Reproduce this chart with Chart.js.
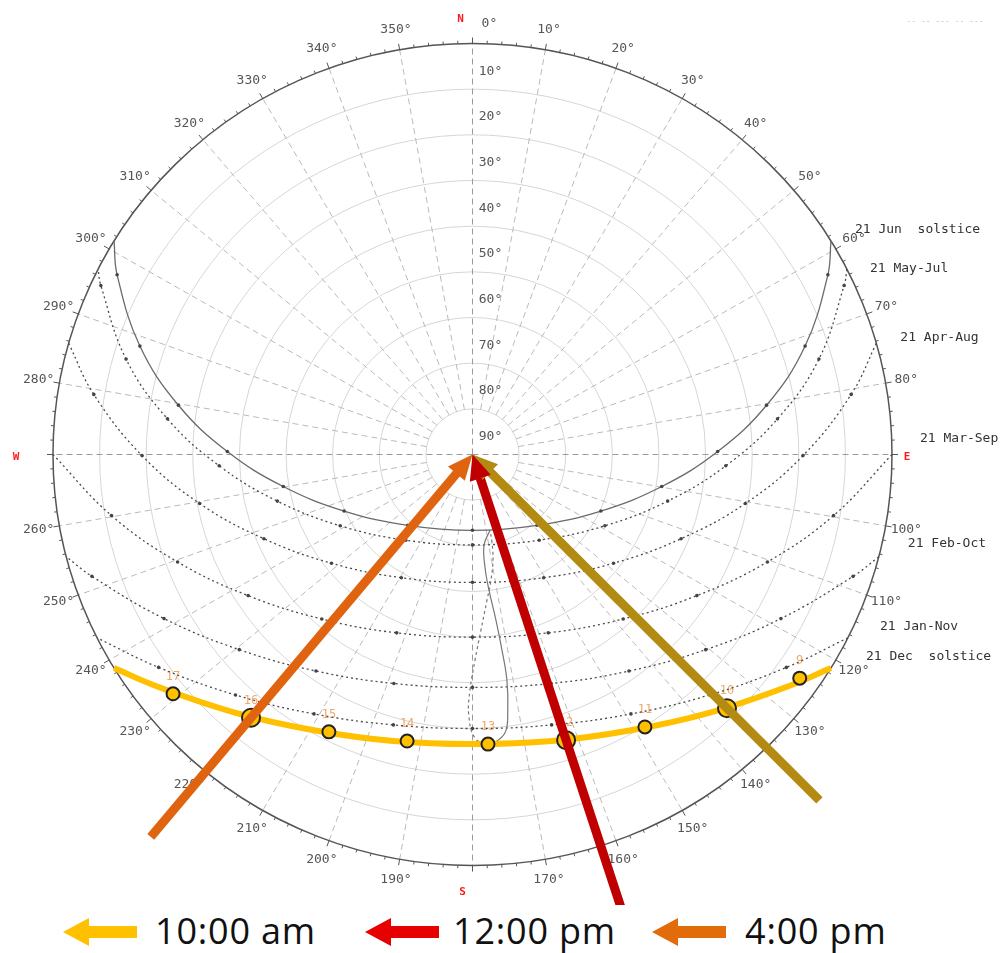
<!DOCTYPE html>
<html>
<head>
<meta charset="utf-8">
<script src="https://cdn.jsdelivr.net/npm/chart.js@4/dist/chart.umd.min.js"></script>
<style>
  html, body { margin: 0; padding: 0; background: #fff; }
  #wrap { position: absolute; left: 0; top: 0; width: 1002px; height: 905px; }
  #legend { position: absolute; left: 0; top: 905px; width: 1002px; height: 48px;
            font-family: "Open Sans", sans-serif; font-size: 36px; letter-spacing: 0.8px; color: #111; }
  #legend svg { position: absolute; top: 13px; }
  #legend span { position: absolute; top: 8px; line-height: 1; white-space: nowrap; }
</style>
</head>
<body>
<div id="wrap"><canvas id="sunChart"></canvas></div>
<div id="legend">
  <svg style="left:63px" width="74" height="28"><polygon points="0,14 26,0 26,8 74,8 74,20 26,20 26,28" fill="#ffc000"/></svg>
  <span style="left:155px">10:00 am</span>
  <svg style="left:365px" width="74" height="28"><polygon points="0,14 26,0 26,8 74,8 74,20 26,20 26,28" fill="#e60000"/></svg>
  <span style="left:453px">12:00 pm</span>
  <svg style="left:652px" width="74" height="28"><polygon points="0,14 26,0 26,8 74,8 74,20 26,20 26,28" fill="#e36c0a"/></svg>
  <span style="left:745px">4:00 pm</span>
</div>
<script>
// sun path, latitude ~40N : azimuth (deg from N, clockwise) / altitude (deg)
const junAz = [58.7, 62.7, 71.6, 80.3, 89.3, 99.8, 114.2, 138.2, 180, 221.8, 245.8, 260.2, 270.7, 279.7, 288.4, 297.3, 301.3];
const junAlt = [0, 4.2, 14.8, 26.0, 37.4, 48.8, 59.8, 69.2, 73.4, 69.2, 59.8, 48.8, 37.4, 26.0, 14.8, 4.2, 0];
const mayJulAz = [63.2, 65.1, 74.3, 83.2, 92.6, 103.7, 118.8, 142.7, 180, 217.3, 241.2, 256.3, 267.4, 276.8, 285.7, 294.9, 296.8];
const mayJulAlt = [0, 2.1, 12.8, 24.1, 35.6, 46.9, 57.6, 66.4, 70.2, 66.4, 57.6, 46.9, 35.6, 24.1, 12.8, 2.1, 0];
const aprAugAz = [74.3, 80.8, 90.2, 100.4, 112.4, 128.2, 150.5, 180, 209.5, 231.8, 247.6, 259.6, 269.8, 279.2, 285.7];
const aprAugAlt = [0, 7.7, 19.1, 30.5, 41.6, 51.5, 59.0, 62.0, 59.0, 51.5, 41.6, 30.5, 19.1, 7.7, 0];
const marSepAz = [90, 99.8, 110.4, 122.7, 138.1, 157.4, 180, 202.6, 221.9, 237.3, 249.6, 260.2, 270];
const marSepAlt = [0, 11.4, 22.5, 32.8, 41.6, 47.7, 50.0, 47.7, 41.6, 32.8, 22.5, 11.4, 0];
const febOctAz = [104.4, 108.1, 118.5, 130.5, 144.7, 161.4, 180, 198.6, 215.3, 229.5, 241.5, 251.9, 255.6];
const febOctAlt = [0, 4.1, 14.7, 24.2, 31.9, 37.1, 39.0, 37.1, 31.9, 24.2, 14.7, 4.1, 0];
const janNovAz = [116.5, 124.7, 136.0, 149.1, 164.0, 180, 196.0, 210.9, 224.0, 235.3, 243.5];
const janNovAlt = [0, 8.1, 16.8, 23.8, 28.4, 30.0, 28.4, 23.8, 16.8, 8.1, 0];
const decAz = [121.3, 127.0, 138.1, 150.6, 164.8, 180, 195.2, 209.4, 221.9, 233.0, 238.7];
const decAlt = [0, 5.5, 14.0, 20.7, 25.0, 26.6, 25.0, 20.7, 14.0, 5.5, 0];

const curveNames = ["21 Jun  solstice", "21 May-Jul", "21 Apr-Aug", "21 Mar-Sep", "21 Feb-Oct", "21 Jan-Nov", "21 Dec  solstice"];

// analemma at 13:00 clock time
const anaAz = [167.2, 172.9, 173.8, 173.2, 172.1, 171.6, 171.5, 172.3, 173.5, 176.6, 179.5, 180.8, 180.6, 179.3, 177.3, 174.4, 171.8, 169.2, 167.8, 167.2];
const anaAlt = [73.0, 70.0, 65.0, 60.1, 53.4, 46.7, 40.1, 33.5, 28.6, 26.1, 27.9, 32.9, 38.4, 45.0, 51.5, 58.0, 62.2, 66.5, 70.2, 73.0];

// hour points on 21 Dec
const hourLabels = ["9", "10", "11", "12", "13", "14", "15", "16", "17"];
const hourAz = [124.9, 135.5, 148.2, 162.2, 177.0, 192.6, 206.9, 219.5, 230.8];
const hourAlt = [4.4, 12.1, 19.8, 24.3, 26.5, 25.7, 21.9, 15.3, 7.1];

// arrows from the zenith through the marked hours
const arrowHours = ["10", "12", "16"];
const arrowTailAlt = [-16.2, -20, -18.5];
const arrowColors = ["#b38b12", "#c00000", "#e0640f"];

const altTicks = [10, 20, 30, 40, 50, 60, 70, 80, 90];
const azTicks = Array.from({ length: 36 }, (_, i) => i * 10);

function proj(az, alt) {
  const r = (90 - alt) / 90, a = az * Math.PI / 180;
  return { x: r * Math.sin(a), y: r * Math.cos(a) };
}
const pts = (az, alt) => az.map((v, i) => proj(v, alt[i]));

const curves = [
  [junAz, junAlt], [mayJulAz, mayJulAlt], [aprAugAz, aprAugAlt], [marSepAz, marSepAlt],
  [febOctAz, febOctAlt], [janNovAz, janNovAlt], [decAz, decAlt]
];

const datasets = [];

// arrow shafts (on top)
const arrowAz = arrowHours.map(h => hourAz[hourLabels.indexOf(h)]);
arrowHours.forEach((h, i) => {
  datasets.push({
    data: [proj(arrowAz[i], arrowTailAlt[i]), proj(arrowAz[i], 85)],
    showLine: true, borderColor: arrowColors[i], borderWidth: 9, pointRadius: 0,
    borderCapStyle: "butt", order: i === 1 ? 0 : 1
  });
});

// hour markers
datasets.push({
  data: pts(hourAz, hourAlt), showLine: false,
  pointRadius: hourLabels.map(h => arrowHours.includes(h) ? 9 : 6.5),
  pointBackgroundColor: "#ffc000", pointBorderColor: "#222", pointBorderWidth: 2, order: 2
});

// 21 Dec highlighted
datasets.push({
  data: pts(decAz, decAlt), showLine: true, borderColor: "#ffc000", borderWidth: 6,
  tension: 0.4, pointRadius: 0, order: 3
});

// analemma: one half solid, the other dashed
const ana = pts(anaAz, anaAlt);
datasets.push({ data: ana.slice(0, 10), showLine: true, borderColor: "#777", borderWidth: 1.2, tension: 0.4, pointRadius: 0, order: 4 });
datasets.push({ data: ana.slice(9), showLine: true, borderColor: "#777", borderWidth: 1.2, borderDash: [3, 3], tension: 0.4, pointRadius: 0, order: 4 });

// date curves
curves.slice(0, 6).forEach(([az, alt], i) => {
  const n = az.length;
  datasets.push({
    data: pts(az, alt), showLine: true, tension: 0.4,
    borderColor: i === 0 ? "#6a6a6a" : "#4a4a4a", borderWidth: 1.3,
    borderDash: i === 0 ? [] : [2, 3],
    pointRadius: c => (c.dataIndex === 0 || c.dataIndex === n - 1) ? 0 : 1.8,
    pointBackgroundColor: "#444", pointBorderWidth: 0, order: 5
  });
});

const labelFont = '13px "DejaVu Sans Mono", monospace';

const sunGrid = {
  id: "sunGrid",
  beforeDatasetsDraw(chart) {
    const { ctx, scales: { x, y } } = chart;
    const cx = x.getPixelForValue(0), cy = y.getPixelForValue(0);
    const rx = x.getPixelForValue(1) - cx, ry = cy - y.getPixelForValue(1);
    ctx.save();

    // altitude circles
    ctx.strokeStyle = "#d6d6d6"; ctx.lineWidth = 1;
    altTicks.slice(0, 8).forEach(a => {
      const k = (90 - a) / 90;
      ctx.beginPath(); ctx.ellipse(cx, cy, rx * k, ry * k, 0, 0, Math.PI * 2); ctx.stroke();
    });

    // azimuth lines
    ctx.setLineDash([6, 4]);
    azTicks.forEach(d => {
      const a = d * Math.PI / 180, main = d % 90 === 0;
      const k0 = main ? 0 : 1 / 9;
      ctx.strokeStyle = main ? "#9a9a9a" : "#bababa";
      ctx.beginPath();
      ctx.moveTo(cx + rx * k0 * Math.sin(a), cy - ry * k0 * Math.cos(a));
      ctx.lineTo(cx + rx * Math.sin(a), cy - ry * Math.cos(a));
      ctx.stroke();
    });
    ctx.setLineDash([]);

    // horizon ring with ticks
    ctx.strokeStyle = "#555"; ctx.lineWidth = 1.5;
    ctx.beginPath(); ctx.ellipse(cx, cy, rx, ry, 0, 0, Math.PI * 2); ctx.stroke();
    ctx.lineWidth = 1;
    for (let d = 0; d < 360; d += 2) {
      const a = d * Math.PI / 180, len = d % 10 === 0 ? 6 : 3;
      const px = cx + rx * Math.sin(a), py = cy - ry * Math.cos(a);
      ctx.beginPath(); ctx.moveTo(px, py);
      ctx.lineTo(px + len * Math.sin(a), py - len * Math.cos(a)); ctx.stroke();
    }

    // azimuth labels
    ctx.font = labelFont; ctx.fillStyle = "#555";
    ctx.textAlign = "center"; ctx.textBaseline = "middle";
    azTicks.forEach(d => {
      if (d % 90 === 0 && d !== 0) return;
      const a = (d === 0 ? 2.2 : d) * Math.PI / 180;
      ctx.fillText(d + "\u00b0", cx + 1.05 * rx * Math.sin(a), cy - 1.05 * ry * Math.cos(a));
    });

    // altitude labels
    altTicks.forEach(a => {
      ctx.fillText(a + "\u00b0", cx + 18, cy - ry * (90 - a) / 90 - 18);
    });

    // cardinal points
    ctx.fillStyle = "#ff1a1a"; ctx.font = 'bold 11px "DejaVu Sans Mono", monospace';
    ctx.fillText("N", cx - 12, cy - ry * 1.06);
    ctx.fillText("S", cx - 10, cy + ry * 1.066);
    ctx.fillText("E", cx + rx * 1.036, cy + 3);
    ctx.fillText("W", cx - rx * 1.088, cy + 3);

    // date labels next to the sunrise ends
    const nudge = [[24, -11], [23, -1], [24, -6], [28, -16], [29, -13], [32, -11], [35, -11]];
    ctx.font = labelFont; ctx.fillStyle = "#333"; ctx.textAlign = "left";
    curves.forEach(([az, alt], i) => {
      const p = proj(az[0], alt[0]);
      ctx.fillText(curveNames[i], x.getPixelForValue(p.x) + nudge[i][0], y.getPixelForValue(p.y) + nudge[i][1]);
    });

    // hour numbers above the markers
    ctx.font = '12px "DejaVu Sans Mono", monospace'; ctx.fillStyle = "#f2a868"; ctx.textAlign = "center";
    hourLabels.forEach((h, i) => {
      const p = proj(hourAz[i], hourAlt[i]);
      ctx.fillText(h, x.getPixelForValue(p.x), y.getPixelForValue(p.y) - 17);
    });

    // faint note top right
    ctx.font = '8px "DejaVu Sans Mono", monospace'; ctx.fillStyle = "#c4c4c4";
    ctx.fillText("-- -- --- -- ---", 945, 22);
    ctx.restore();
  },
  afterDatasetsDraw(chart) {
    const { ctx, scales: { x, y } } = chart;
    const cx = x.getPixelForValue(0), cy = y.getPixelForValue(0);
    ctx.save();
    [2, 0, 1].forEach(i => {
      const t = proj(arrowAz[i], arrowTailAlt[i]);
      const tx = x.getPixelForValue(t.x), ty = y.getPixelForValue(t.y);
      const len = Math.hypot(tx - cx, ty - cy), ux = (tx - cx) / len, uy = (ty - cy) / len;
      const bx = cx + ux * 25, by = cy + uy * 25;
      ctx.fillStyle = arrowColors[i];
      ctx.beginPath();
      ctx.moveTo(cx, cy);
      ctx.lineTo(bx - uy * 11, by + ux * 11);
      ctx.lineTo(bx + uy * 11, by - ux * 11);
      ctx.closePath(); ctx.fill();
    });
    ctx.restore();
  }
};

new Chart(document.getElementById("sunChart"), {
  type: "scatter",
  data: { datasets },
  options: {
    responsive: true,
    maintainAspectRatio: false,
    animation: false,
    events: [],
    layout: { padding: 0, autoPadding: false },
    scales: {
      x: { type: "linear", min: -1.1263, max: 1.2622, display: false },
      y: { type: "linear", min: -1.0961, max: 1.1058, display: false }
    },
    plugins: { legend: { display: false }, tooltip: { enabled: false } }
  },
  plugins: [sunGrid]
});
</script>
</body>
</html>
